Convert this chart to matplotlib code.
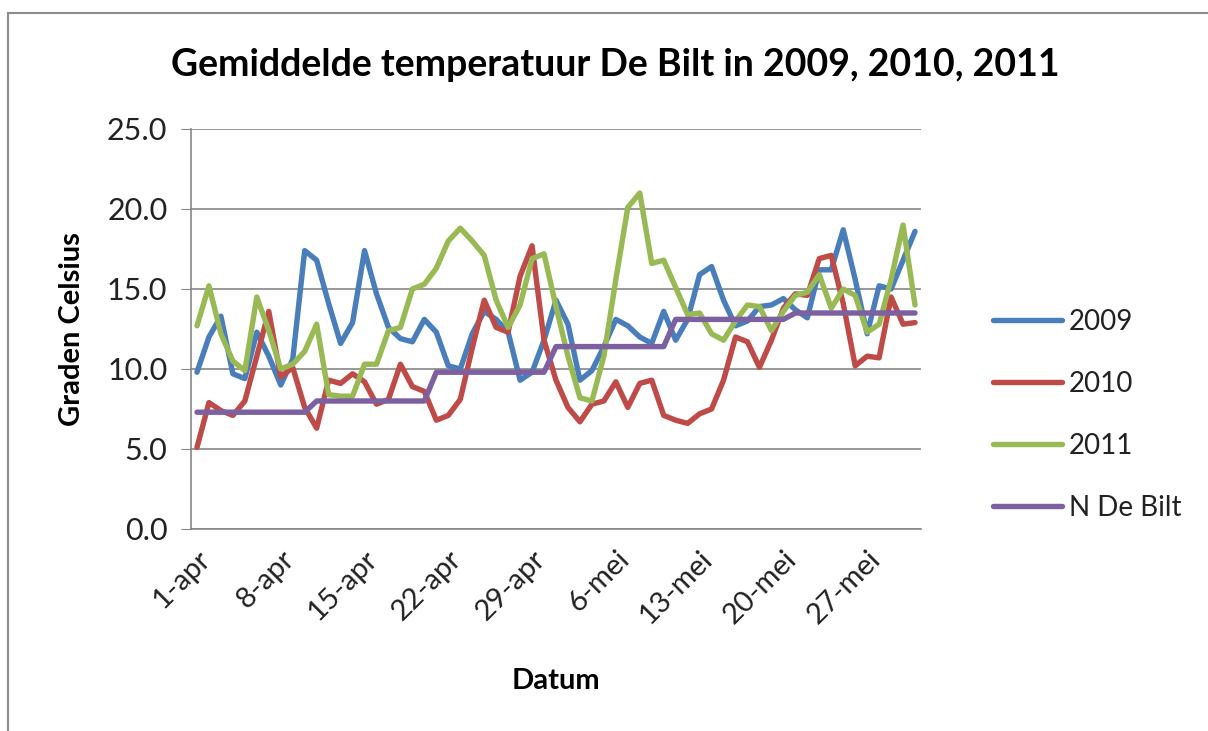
import matplotlib
matplotlib.use("Agg")
import matplotlib.pyplot as plt
from matplotlib.lines import Line2D

# daily mean temperature De Bilt, 1 april - 31 mei
t2009 = [9.8, 12.0, 13.3, 9.7, 9.4, 12.3, 10.8, 9.0, 10.6, 17.4,
         16.8, 14.1, 11.6, 12.9, 17.4, 14.7, 12.6, 11.9, 11.7, 13.1,
         12.3, 10.2, 10.0, 12.2, 13.6, 13.1, 12.3, 9.3, 9.8, 11.8,
         14.3, 12.8, 9.3, 9.9, 11.4, 13.1, 12.7, 12.0, 11.6, 13.6,
         11.8, 13.1, 15.9, 16.4, 14.3, 12.7, 13.0, 13.9, 14.0, 14.4,
         13.7, 13.2, 16.2, 16.2, 18.7, 15.6, 12.2, 15.2, 15.0, 16.8, 18.6]
t2010 = [5.1, 7.9, 7.4, 7.1, 8.0, 10.8, 13.6, 9.5, 10.1, 7.6,
         6.3, 9.3, 9.1, 9.7, 9.2, 7.8, 8.1, 10.3, 8.9, 8.6,
         6.8, 7.1, 8.1, 11.3, 14.3, 12.6, 12.3, 15.8, 17.7, 11.8,
         9.3, 7.6, 6.7, 7.8, 8.0, 9.2, 7.6, 9.1, 9.3, 7.1,
         6.8, 6.6, 7.2, 7.5, 9.3, 12.0, 11.7, 10.1, 11.8, 13.8,
         14.7, 14.6, 16.9, 17.1, 14.1, 10.2, 10.8, 10.7, 14.5, 12.8, 12.9]
t2011 = [12.7, 15.2, 12.2, 10.5, 9.9, 14.5, 12.4, 10.0, 10.3, 11.1,
         12.8, 8.4, 8.3, 8.3, 10.3, 10.3, 12.4, 12.6, 15.0, 15.3,
         16.3, 18.0, 18.8, 18.0, 17.1, 14.3, 12.6, 14.0, 16.9, 17.2,
         13.9, 10.8, 8.2, 8.0, 10.8, 15.6, 20.1, 21.0, 16.6, 16.8,
         15.1, 13.4, 13.5, 12.2, 11.8, 13.0, 14.0, 13.9, 12.4, 13.6,
         14.6, 14.8, 15.9, 13.8, 15.0, 14.6, 12.3, 12.8, 15.6, 19.0, 14.0]
# normal per decade (1-10, 11-20, 21-end)
normaal_decade = [7.3, 8.0, 9.8, 11.4, 13.1, 13.5]
decade_dagen = [10, 10, 10, 10, 10, 11]
n_debilt = [v for v, n in zip(normaal_decade, decade_dagen) for _ in range(n)]

tick_labels = ["1-apr", "8-apr", "15-apr", "22-apr", "29-apr",
               "6-mei", "13-mei", "20-mei", "27-mei"]

plt.rcParams["font.family"] = ["Lato", "DejaVu Sans"]

fig = plt.figure(figsize=(12.08, 7.31), dpi=100)
ax = fig.add_axes([191 / 1208, 202 / 731, 730 / 1208, 400 / 731])

x = list(range(len(t2009)))
lw = 3.9
ax.plot(x, t2009, color="#4A7EBB", lw=lw, label="2009", solid_capstyle="round", solid_joinstyle="round")
ax.plot(x, t2010, color="#BE4B48", lw=lw, label="2010", solid_capstyle="round", solid_joinstyle="round")
ax.plot(x, t2011, color="#98B954", lw=lw, label="2011", solid_capstyle="round", solid_joinstyle="round")
ax.plot(x, n_debilt, color="#7D60A0", lw=lw, label="N De Bilt", solid_capstyle="round", solid_joinstyle="round")

ax.set_xlim(-0.5, len(x) - 0.5)
ax.set_ylim(0, 25)
ax.set_yticks([0, 5, 10, 15, 20, 25])
ax.set_yticklabels([f"{v:.1f}" for v in [0, 5, 10, 15, 20, 25]])
ax.set_xticks(range(0, len(x), 7))
ax.set_xticklabels(tick_labels, rotation=45, ha="right", va="top", rotation_mode="anchor")

ax.grid(axis="y", color="#868686", lw=1.2)
ax.set_axisbelow(True)
for s in ["top", "right"]:
    ax.spines[s].set_visible(False)
for s in ["left", "bottom"]:
    ax.spines[s].set_color("#868686")
    ax.spines[s].set_linewidth(1.2)
ax.tick_params(axis="y", length=7, color="#868686", labelsize=22, pad=10, labelcolor="#222222")
ax.tick_params(axis="x", length=0, labelsize=21, pad=12, labelcolor="#222222")

ax.set_ylabel("Graden Celsius", fontsize=21, fontweight="bold")
ax.yaxis.set_label_coords(-0.145, 0.5)
ax.set_xlabel("Datum", fontsize=21, fontweight="bold")
ax.xaxis.set_label_coords(0.5, -0.3475)

fig.text(615 / 1208, 1 - 65 / 731, "Gemiddelde temperatuur De Bilt in 2009, 2010, 2011",
         ha="center", va="center", fontsize=27, fontweight="bold")

leg = fig.legend(loc="center left", bbox_to_anchor=(968 / 1208, 1 - 415 / 731), frameon=False,
                 fontsize=20, handlelength=2.48, labelspacing=1.3, handletextpad=0.25)
for t in leg.get_texts():
    t.set_color("#222222")

# chart border
fig.add_artist(Line2D([8 / 1208, 8 / 1208], [0, 1 - 13 / 731], color="#8c8c8c", lw=1.5))
fig.add_artist(Line2D([8 / 1208, 1], [1 - 13 / 731, 1 - 13 / 731], color="#8c8c8c", lw=1.5))

fig.savefig("out.png", dpi=100)
